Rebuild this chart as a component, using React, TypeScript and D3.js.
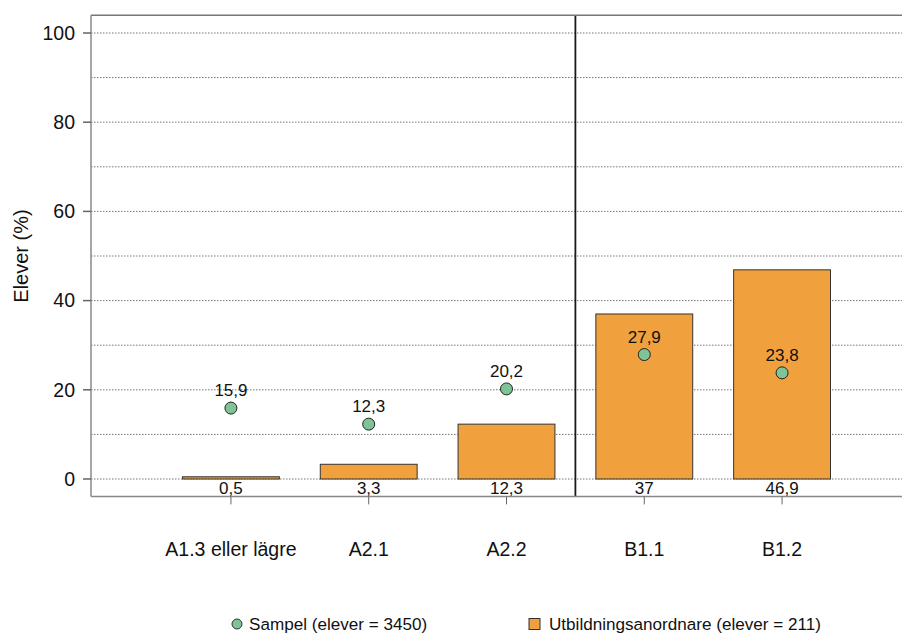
import * as d3 from "d3";

const categories = ["A1.3 eller lägre", "A2.1", "A2.2", "B1.1", "B1.2"];
const barValues = [0.5, 3.3, 12.3, 37, 46.9];
const barLabels = ["0,5", "3,3", "12,3", "37", "46,9"];
const dotValues = [15.9, 12.3, 20.2, 27.9, 23.8];
const dotLabels = ["15,9", "12,3", "20,2", "27,9", "23,8"];
const yTicks = [0, 20, 40, 60, 80, 100];
const gridTicks = [0, 10, 20, 30, 40, 50, 60, 70, 80, 90, 100];

export default function App() {
  const width = 902;
  const height = 633;
  const left = 91;
  const right = 902;
  const font = "Liberation Sans, Arial, sans-serif";

  const y = d3.scaleLinear().domain([0, 100]).range([479, 33]);
  const x = d3.scaleBand().domain(categories).range([182.5, 830.5]).paddingInner(0.297).paddingOuter(0);
  const bw = x.bandwidth();
  const cx = (c: string) => (x(c) ?? 0) + bw / 2;
  const top = y(104);
  const bottom = y(-3.9);
  const sepX = (cx(categories[2]) + cx(categories[3])) / 2;

  return (
    <svg width={width} height={height} style={{ position: "absolute", left: 0, top: 0 }} fontFamily={font}>
      {/* grid */}
      {gridTicks.map(t => (
        <line key={t} x1={left} x2={right} y1={y(t)} y2={y(t)} stroke="#777" strokeWidth={1} strokeDasharray="1.5,1.5" />
      ))}
      {/* bars */}
      {categories.map((c, i) => (
        <rect key={c} x={x(c)} y={y(barValues[i])} width={bw} height={y(0) - y(barValues[i])}
          fill="#f0a03c" stroke="#333" strokeWidth={1} />
      ))}
      {/* bar labels */}
      {categories.map((c, i) => (
        <text key={c} x={cx(c)} y={y(0) + 15} textAnchor="middle" fontSize={17} fill="#111">{barLabels[i]}</text>
      ))}
      {/* separator */}
      <line x1={sepX} x2={sepX} y1={top} y2={bottom} stroke="#1a1a1a" strokeWidth={1.8} />
      {/* dots */}
      {categories.map((c, i) => (
        <g key={c}>
          <circle cx={cx(c)} cy={y(dotValues[i])} r={6} fill="#7fc497" stroke="#222" strokeWidth={1} />
          <text x={cx(c)} y={y(dotValues[i]) - 12} textAnchor="middle" fontSize={17} fill="#111">{dotLabels[i]}</text>
        </g>
      ))}
      {/* frame */}
      <line x1={left} x2={right} y1={top} y2={top} stroke="#777" strokeWidth={1.5} />
      <line x1={left} x2={right} y1={bottom} y2={bottom} stroke="#888" strokeWidth={1.5} />
      <line x1={left} x2={left} y1={top} y2={bottom} stroke="#888" strokeWidth={1.5} />
      {/* y ticks */}
      {yTicks.map(t => (
        <g key={t}>
          <line x1={left - 8} x2={left} y1={y(t)} y2={y(t)} stroke="#666" strokeWidth={1.5} />
          <text x={75} y={y(t)} dy="0.35em" textAnchor="end" fontSize={19.5} fill="#111">{t}</text>
        </g>
      ))}
      <text transform={`translate(28,${y(50)}) rotate(-90)`} textAnchor="middle" fontSize={20} fill="#111">Elever (%)</text>
      {/* x ticks */}
      {categories.map(c => (
        <g key={c}>
          <line x1={cx(c)} x2={cx(c)} y1={bottom} y2={bottom + 8} stroke="#666" strokeWidth={1} />
          <text x={cx(c)} y={556} textAnchor="middle" fontSize={19.5} fill="#111">{c}</text>
        </g>
      ))}
      {/* legend */}
      <circle cx={237} cy={624} r={5} fill="#7fc497" stroke="#333" strokeWidth={1} />
      <text x={249} y={630} fontSize={17.1} fill="#111">Sampel (elever = 3450)</text>
      <rect x={529} y={618.5} width={11} height={11} fill="#f0a03c" stroke="#333" strokeWidth={1} />
      <text x={549} y={630} fontSize={17.1} fill="#111">Utbildningsanordnare (elever = 211)</text>
    </svg>
  );
}
